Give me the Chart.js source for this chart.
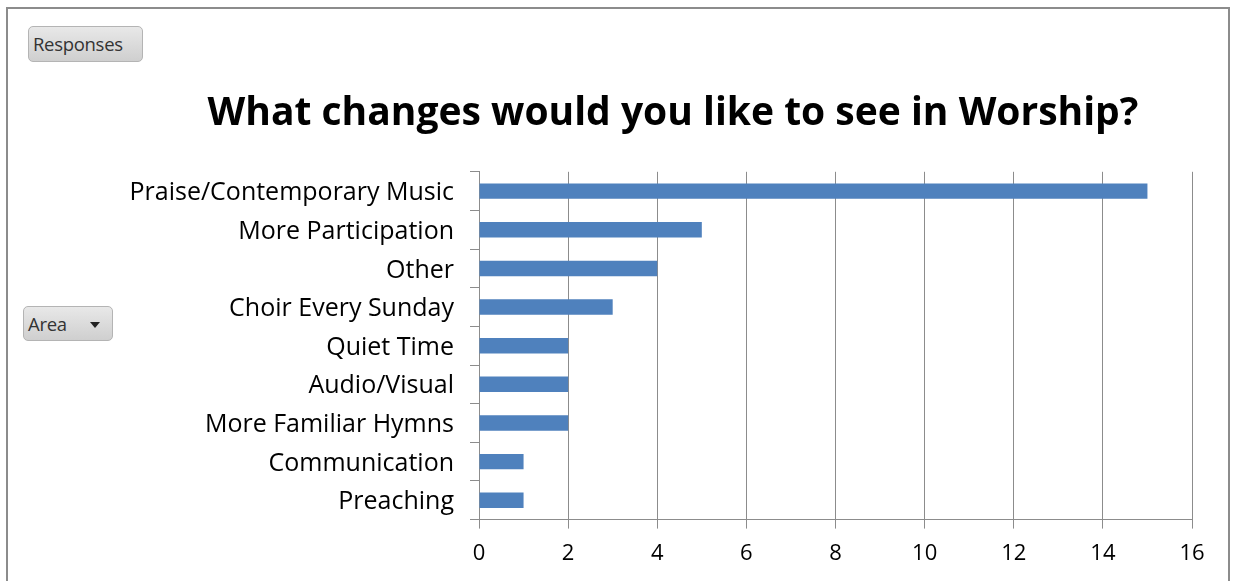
<!DOCTYPE html>
<html>
<head>
<meta charset="utf-8">
<script src="https://cdn.jsdelivr.net/npm/chart.js@4"></script>
<style>
  body { margin: 0; background: #fff; width: 1233px; height: 581px; overflow: hidden; position: relative; font-family: "Open Sans", sans-serif; }
  .frame { position: absolute; left: 6px; top: 7px; width: 1224px; height: 600px; border: 2px solid #8c8c8c; box-sizing: border-box; }
  .btn { position: absolute; box-sizing: border-box; border: 1px solid #b4b4b4; border-radius: 5px;
         background: linear-gradient(#e8e8e8, #cfcfcf); color: #333; font-size: 18.5px; line-height: 33px; padding-left: 4px; letter-spacing: -0.3px; }
  .tri { position: absolute; left: 66px; top: 15px; width: 0; height: 0;
         border-left: 5px solid transparent; border-right: 5px solid transparent; border-top: 6px solid #222; }
  #wrap { position: absolute; left: 114px; top: 0; width: 1118px; height: 581px; }
</style>
</head>
<body>
<div class="frame"></div>
<div class="btn" style="left:28px;top:26px;width:115px;height:36px;">Responses</div>
<div class="btn" style="left:23px;top:306px;width:90px;height:35px;">Area<span class="tri"></span></div>
<div id="wrap"><canvas id="chart"></canvas></div>
<script>
// Worship survey responses
const categories = [
    'Praise/Contemporary Music',
    'More Participation',
    'Other',
    'Choir Every Sunday',
    'Quiet Time',
    'Audio/Visual',
    'More Familiar Hymns',
    'Communication',
    'Preaching'
];
const responses = [15, 5, 4, 3, 2, 2, 2, 1, 1];
const xTicks = [0, 2, 4, 6, 8, 10, 12, 14, 16];

// the title is centred on the whole frame, not only on the space right of the padding
const titleShift = {
    id: 'titleShift',
    afterLayout(chart) {
        if (chart.titleBlock) chart.titleBlock.right += 40;
    }
};

const ctx = document.getElementById('chart').getContext('2d');
new Chart(ctx, {
    type: 'bar',
    data: {
        labels: categories,
        datasets: [{
            label: 'Responses',
            data: responses,
            backgroundColor: '#4F81BD',
            barPercentage: 0.4,
            categoryPercentage: 1
        }]
    },
    plugins: [titleShift],
    options: {
        indexAxis: 'y',
        responsive: true,
        maintainAspectRatio: false,
        animation: false,
        layout: { padding: { right: 40, bottom: 2 } },
        plugins: {
            legend: { display: false },
            tooltip: { enabled: false },
            title: {
                display: true,
                text: 'What changes would you like to see in Worship?',
                color: '#000',
                font: { family: 'Open Sans', size: 39, weight: 'bold', lineHeight: 1.2 },
                padding: { top: 90, bottom: 35 }
            }
        },
        scales: {
            x: {
                min: 0,
                max: 16,
                afterBuildTicks: function(scale) {
                    scale.ticks = xTicks.map(v => ({ value: v }));
                },
                grid: { color: '#8c8c8c', tickLength: 9, drawTicks: true },
                border: { color: '#8c8c8c' },
                ticks: { color: '#000', padding: 12, font: { family: 'Open Sans', size: 22 } }
            },
            y: {
                afterFit: function(scale) { scale.width = 365; },
                grid: { offset: true, drawOnChartArea: false, color: '#8c8c8c', tickLength: 9 },
                border: { color: '#8c8c8c' },
                ticks: { color: '#000', padding: 16, labelOffset: 2, font: { family: 'Open Sans', size: 25 } }
            }
        }
    }
});
</script>
</body>
</html>
